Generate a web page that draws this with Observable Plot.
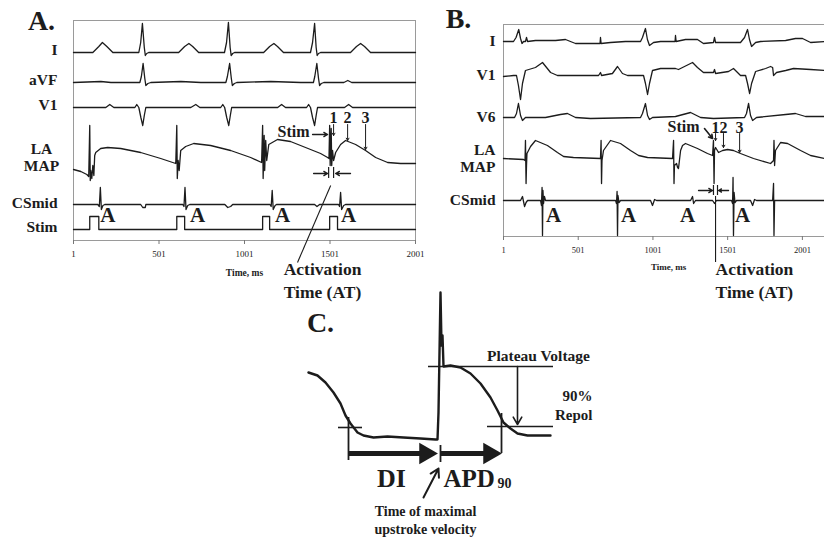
<!DOCTYPE html>
<html><head><meta charset="utf-8">
<script src="https://cdn.jsdelivr.net/npm/d3@7"></script>
<script src="https://cdn.jsdelivr.net/npm/@observablehq/plot@0.6"></script>
<style>
body{margin:0;background:#fff}
#fig{position:relative;width:824px;height:544px;overflow:hidden;background:#fff}
#fig>div{position:absolute}
#pa{left:0;top:0}#pb{left:440px;top:0}#pc{left:280px;top:290px}
</style></head><body><div id="fig"><div id="pa"></div><div id="pb"></div><div id="pc"></div></div>
<script>
// ---------------- Panel A data (time ms, signal units) ----------------
const A_ticks = [1, 501, 1001, 1501, 2001];
const A_leads = ["I", "aVF", "V1", "LA MAP", "CSmid", "Stim"];
const A_offsets = [188, 158, 133, 0, 36, 0];
const A_I = [[1,0],[114,0],[149,6],[170,10],[196,6],[231,0],[383,0],[394,10],[404,29],[415,5],[421,-3],[429,-1],[441,0],[616,0],[651,6],[676,9],[698,6],[733,0],[884,0],[896,10],[907,30],[917,5],[923,-3],[932,-1],[943,0],[1113,0],[1148,6],[1173,9],[1194,6],[1229,0],[1387,0],[1399,10],[1411,29],[1420,5],[1426,-3],[1434,-1],[1446,0],[1621,0],[1656,6],[1680,9],[1703,6],[1738,0],[2001,0]];
const A_aVF = [[1,0],[161,1],[220,0],[389,0],[398,6],[408,19],[418,4],[424,-3],[436,-1],[453,0],[629,1],[746,0],[892,0],[901,6],[914,19],[924,4],[930,-3],[942,-1],[956,0],[1155,1],[1330,0],[1404,0],[1412,6],[1424,19],[1434,4],[1440,-3],[1450,-1],[1465,0],[1582,0],[1605,2],[1628,0],[2001,0]];
const A_V1 = [[1,0],[190,0],[213,3],[237,0],[360,0],[371,3],[383,0],[395,-10],[406,-18],[415,-8],[424,0],[687,0],[716,3],[740,0],[862,0],[874,3],[885,0],[897,-10],[909,-18],[918,-8],[926,0],[1195,0],[1218,3],[1241,0],[1364,0],[1376,3],[1387,0],[1399,-10],[1411,-18],[1420,-8],[1428,0],[1586,0],[1610,3],[1633,0],[2001,0]];
const A_LA = [[1,71],[44,69],[79,66],[90,64],[96,115],[99,60],[102,70],[108,62],[114,75],[120,65],[125,85],[131,88],[160,92],[201,93],[277,92],[394,88],[511,82],[599,77],[605,115],[608,62],[613,80],[619,70],[628,90],[657,94],[704,97],[803,95],[920,90],[1037,83],[1101,78],[1107,115],[1110,62],[1116,105],[1119,70],[1125,100],[1131,80],[1143,96],[1194,101],[1270,99],[1358,93],[1446,87],[1487,83],[1495,82],[1499,115],[1502,75],[1508,112],[1511,75],[1516,90],[1522,80],[1534,88],[1563,96],[1592,100],[1651,96],[1709,90],[1768,83],[1838,78],[1914,77],[2001,77]];
const A_CS = [[1,0],[143,0],[152,-2],[158,17],[164,-5],[173,-1],[184,0],[394,0],[406,-3],[421,-3],[424,0],[640,0],[647,-2],[653,17],[659,-5],[669,-1],[681,0],[886,0],[903,-3],[920,-2],[932,0],[1150,0],[1157,-2],[1163,14],[1169,-5],[1180,-1],[1188,0],[1411,0],[1425,-2],[1440,0],[1551,0],[1557,-2],[1563,12],[1569,-5],[1581,-1],[1592,0],[2001,0]];
const A_Stim = [[1,11],[96,11],[96,24],[149,24],[149,11],[605,11],[605,24],[651,24],[651,11],[1107,11],[1107,24],[1148,24],[1148,11],[1499,11],[1499,24],[1545,24],[1545,11],[2001,11]];
const A_labels = ["I", "aVF", "V1", "CSmid", "Stim"];
const A_labelV = [190, 160, 135, 37, 13];
const A_atrialT = [202, 727, 1224, 1610];
const A_numLabels = ["1", "2", "3"];
const A_numT = [1522, 1604, 1709];
const A_numTipV = [105, 100, 91];
const A_atBarsT = [1493, 1522];

// ---------------- Panel B data ----------------
const B_ticks = [1, 501, 1001, 1501, 2001];
const B_leads = ["I", "V1", "V6", "LA MAP", "CSmid"];
const B_offsets = [195, 161, 119, 0, 36];
const B_I = [[1,0],[68,0],[85,4],[103,12],[115,3],[125,-2],[135,0],[148,0],[155,4],[162,0],[215,1],[282,1],[349,1],[416,2],[449,0],[483,-2],[637,-2],[647,-2],[650,4],[654,-2],[717,-1],[817,0],[918,0],[931,4],[951,13],[964,2],[978,-4],[1005,-1],[1052,0],[1149,0],[1152,6],[1156,0],[1219,2],[1299,2],[1339,-2],[1406,-1],[1413,4],[1420,-1],[1486,-1],[1587,-1],[1614,4],[1634,12],[1647,2],[1661,-5],[1688,-1],[1721,0],[1889,1],[1955,3],[2002,3],[2056,-1],[2149,0]];
const B_V1 = [[1,-1],[68,0],[88,0],[101,-10],[115,-24],[128,-8],[148,5],[215,8],[262,13],[289,8],[316,3],[362,0],[637,0],[650,3],[657,0],[730,2],[764,9],[797,2],[831,0],[938,0],[951,-8],[965,-19],[978,-8],[998,5],[1052,7],[1152,7],[1172,6],[1266,13],[1299,8],[1339,3],[1406,3],[1413,6],[1420,2],[1507,4],[1540,7],[1567,3],[1587,0],[1621,0],[1634,-8],[1648,-18],[1661,-8],[1688,4],[1755,7],[1788,9],[1802,8],[1808,0],[1828,3],[1889,5],[1942,7],[2056,6],[2149,5]];
const B_V6 = [[1,0],[75,0],[88,4],[101,14],[115,2],[128,-3],[148,0],[282,0],[382,3],[429,4],[483,0],[583,-1],[918,0],[931,4],[951,14],[965,2],[978,-2],[998,0],[1152,1],[1253,5],[1320,0],[1406,-1],[1614,0],[1627,4],[1641,14],[1654,2],[1668,-3],[1694,0],[1889,3],[1955,4],[2022,1],[2149,1]];
const B_LA = [[1,78],[135,77],[145,76],[148,96],[152,53],[155,71],[158,83],[182,90],[215,96],[295,91],[362,84],[403,80],[469,79],[650,78],[654,96],[657,53],[660,76],[670,86],[717,96],[784,93],[851,86],[905,81],[965,79],[1132,78],[1139,96],[1142,53],[1145,71],[1159,73],[1166,69],[1172,68],[1186,86],[1199,91],[1219,93],[1299,88],[1366,83],[1400,81],[1406,96],[1410,53],[1413,86],[1420,89],[1440,84],[1467,86],[1500,87],[1540,86],[1587,83],[1674,78],[1788,73],[1808,76],[1811,96],[1815,71],[1821,86],[1855,94],[1902,93],[1989,86],[2056,81],[2149,78]];
const B_CS = [[1,0],[115,0],[128,4],[142,-6],[152,-2],[162,0],[249,0],[255,-5],[259,13],[262,-35],[265,10],[269,-3],[275,4],[282,0],[751,0],[757,-3],[761,9],[764,-35],[767,5],[774,-2],[784,0],[985,0],[998,-5],[1012,1],[1025,0],[1253,0],[1266,4],[1273,-3],[1286,0],[1400,0],[1413,-3],[1426,0],[1527,0],[1534,-3],[1537,23],[1540,-35],[1544,8],[1550,-2],[1560,0],[1654,0],[1668,-5],[1681,1],[1694,0],[1802,0],[1808,17],[1811,-35],[1815,0],[2149,0]];
const B_labels = ["I", "V1", "V6", "CSmid"];
const B_labelV = [195, 161, 119, 36];
const B_atrialT = [336, 838, 1232, 1601];
const B_numLabels = ["1", "2", "3"];
const B_numT = [1420, 1473, 1581];
const B_numTipV = [96, 89, 84];
const B_atBarsT = [1406, 1433];

// ---------------- Panel C data (schematic MAP) ----------------
const C_trace = [[8,172],[17,169],[25,162],[33,152],[40,141],[45,129],[50,121],[57,112],[63,109],[73,107],[87,108],[103,107],[120,106],[135,105],[137,105],[138,132],[140,252],[141,199],[142,209],[143,178],[150,179],[160,177],[170,171],[180,161],[190,147],[197,134],[203,122],[210,116],[217,111],[227,109],[250,109]];
const C_plateauV = 178, C_repolV = 118;

// ---------------- helpers ----------------
const SERIF = "'Liberation Serif','DejaVu Serif','Times New Roman',serif";
const INK = "#1c1c1c";
const T = (o) => ({fontFamily: SERIF, fontWeight: "bold", fill: INK, ...o});
const build = (traces, names, offs) => traces.flatMap((tr, i) => tr.map(([t, v]) => ({lead: names[i], t, v: v + offs[i]})));
const STYLE = {background: "transparent", overflow: "visible", fontFamily: SERIF};

// ---------------- Panel A ----------------
const dataA = build([A_I, A_aVF, A_V1, A_LA, A_CS, A_Stim], A_leads, A_offsets);
const plotA = Plot.plot({
  width: 430, height: 300, marginLeft: 73, marginRight: 15, marginTop: 20, marginBottom: 60,
  x: {domain: [1, 2001]}, y: {domain: [0, 220], axis: null}, style: STYLE,
  marks: [
    Plot.frame({stroke: "#9a9a9a"}),
    Plot.axisX({ticks: A_ticks, tickFormat: d => String(d), tickSize: 4, tickPadding: 6, stroke: "#777", fill: INK, fontSize: 9, fontFamily: SERIF, label: null}),
    Plot.text(["Time, ms"], {x: 1001, y: -32, text: d => d, ...T({fontSize: 9.5})}),
    Plot.line(dataA, {x: "t", y: "v", z: "lead", stroke: INK, strokeWidth: 1.3}),
    Plot.text(A_labels, {x: 1, y: (d, i) => A_labelV[i], text: d => d, dx: -16, textAnchor: "end", ...T({fontSize: 15.5})}),
    Plot.text(["LA\nMAP"], {x: 1, y: 83.5, text: d => d, dx: -32, lineHeight: 1.1, ...T({fontSize: 15.5})}),
    Plot.text(["A."], {frameAnchor: "top-left", text: d => d, dx: -32, dy: 1, textAnchor: "middle", lineAnchor: "middle", ...T({fontSize: 28})}),
    Plot.text(A_atrialT, {x: d => d, y: 25, text: () => "A", ...T({fontSize: 21})}),
    Plot.text(["Stim"], {x: 1288, y: 109, text: d => d, ...T({fontSize: 16})}),
    Plot.arrow([0], {x1: 1399, x2: 1487, y1: 106, y2: 106, stroke: INK, strokeWidth: 1.3, headLength: 5}),
    Plot.text(A_numLabels, {x: (d, i) => A_numT[i], y: 123, text: d => d, ...T({fontSize: 16})}),
    Plot.arrow(A_numT, {x1: d => d, x2: d => d, y1: 116, y2: (d, i) => A_numTipV[i], stroke: INK, strokeWidth: 1, headLength: 4}),
    Plot.ruleX(A_atBarsT, {x: d => d, y1: 62, y2: 73, stroke: INK, strokeWidth: 1.2}),
    Plot.arrow([[1405, 1487], [1621, 1534]], {x1: d => d[0], x2: d => d[1], y1: 67, y2: 67, stroke: INK, strokeWidth: 1.3, headLength: 5}),
    Plot.link([0], {x1: 1505, y1: 55, x2: 1311, y2: -22, stroke: INK, strokeWidth: 1.1}),
    Plot.text(["Activation\nTime (AT)"], {x: 1230, y: -39, text: d => d, textAnchor: "start", lineHeight: 1.3, ...T({fontSize: 17.5})})
  ]
});
document.getElementById("pa").append(plotA);

// ---------------- Panel B ----------------
const dataB = build([B_I, B_V1, B_V6, B_LA, B_CS], B_leads, B_offsets);
const plotB = Plot.plot({
  width: 384, height: 300, marginLeft: 63, marginRight: 0, marginTop: 24, marginBottom: 64,
  x: {domain: [1, 2149]}, y: {domain: [0, 212], axis: null}, style: STYLE,
  marks: [
    Plot.frame({anchor: "top", stroke: "#9a9a9a"}),
    Plot.frame({anchor: "left", stroke: "#9a9a9a"}),
    Plot.frame({anchor: "bottom", stroke: "#9a9a9a"}),
    Plot.axisX({ticks: B_ticks, tickFormat: d => String(d), tickSize: 4, tickPadding: 6, stroke: "#777", fill: INK, fontSize: 8.5, fontFamily: SERIF, label: null}),
    Plot.text(["Time, ms"], {x: 1106, y: -31, text: d => d, ...T({fontSize: 9})}),
    Plot.line(dataB, {x: "t", y: "v", z: "lead", stroke: INK, strokeWidth: 1.3}),
    Plot.text(B_labels, {x: 1, y: (d, i) => B_labelV[i], text: d => d, dx: -8, textAnchor: "end", ...T({fontSize: 15.5})}),
    Plot.text(["LA\nMAP"], {x: 1, y: 78.5, text: d => d, dx: -8, textAnchor: "end", lineHeight: 1.1, ...T({fontSize: 15.5})}),
    Plot.text(["B."], {frameAnchor: "top-left", text: d => d, dx: -45, dy: -5, textAnchor: "middle", lineAnchor: "middle", ...T({fontSize: 28})}),
    Plot.text(B_atrialT, {x: d => d, y: 21, text: () => "A", ...T({fontSize: 21})}),
    Plot.text(["Stim"], {x: 1206, y: 110, text: d => d, ...T({fontSize: 16})}),
    Plot.arrow([0], {x1: 1346, x2: 1400, y1: 108, y2: 98, stroke: INK, strokeWidth: 1.6, headLength: 5}),
    Plot.text(B_numLabels, {x: (d, i) => B_numT[i], y: 109, text: d => d, ...T({fontSize: 16})}),
    Plot.arrow(B_numT, {x1: d => d, x2: d => d, y1: 103, y2: (d, i) => B_numTipV[i], stroke: INK, strokeWidth: 1, headLength: 4}),
    Plot.ruleX(B_atBarsT, {x: d => d, y1: 41, y2: 51, stroke: INK, strokeWidth: 1.2}),
    Plot.arrow([[1306, 1400], [1507, 1440]], {x1: d => d[0], x2: d => d[1], y1: 46, y2: 46, stroke: INK, strokeWidth: 1.3, headLength: 5}),
    Plot.ruleX([1420], {x: d => d, y1: 40, y2: -26, stroke: INK, strokeWidth: 1.1}),
    Plot.text(["Activation\nTime (AT)"], {x: 1420, y: -43, text: d => d, textAnchor: "start", lineHeight: 1.3, ...T({fontSize: 17.5})})
  ]
});
document.getElementById("pb").append(plotB);

// ---------------- Panel C ----------------
const plotC = Plot.plot({
  width: 330, height: 254, margin: 0,
  x: {domain: [-20, 310], axis: null}, y: {domain: [0, 254], axis: null}, style: STYLE,
  marks: [
    Plot.line(C_trace, {x: d => d[0], y: d => d[1], stroke: INK, strokeWidth: 2.4}),
    Plot.ruleY([C_plateauV], {x1: 128, x2: 253, stroke: INK, strokeWidth: 1.6}),
    Plot.ruleY([C_repolV], {x1: 187, x2: 253, stroke: INK, strokeWidth: 1.6}),
    Plot.ruleY([117], {x1: 38, x2: 62, stroke: INK, strokeWidth: 1.6}),
    Plot.ruleX([48], {y1: 84, y2: 127, stroke: INK, strokeWidth: 1.8}),
    Plot.ruleX([140], {y1: 82, y2: 99, stroke: INK, strokeWidth: 1.8}),
    Plot.ruleX([201], {y1: 91, y2: 131, stroke: INK, strokeWidth: 1.8}),
    Plot.ruleY([91], {x1: 48, x2: 126, stroke: INK, strokeWidth: 5}),
    Plot.ruleY([91], {x1: 141, x2: 189, stroke: INK, strokeWidth: 5}),
    Plot.dot([125, 189], {x: d => d, y: 91, symbol: "triangle", rotate: 90, r: 8, fill: INK, stroke: "none"}),
    Plot.arrow([0], {x1: 217, x2: 217, y1: C_plateauV, y2: C_repolV + 2, stroke: INK, strokeWidth: 1.6, headLength: 8}),
    Plot.arrow([0], {x1: 123, y1: 47, x2: 138, y2: 76, stroke: INK, strokeWidth: 2, headLength: 7}),
    Plot.text(["C."], {x: 20, y: 221, text: d => d, ...T({fontSize: 28})}),
    Plot.text(["Plateau Voltage"], {x: 238, y: 188, text: d => d, ...T({fontSize: 15.5})}),
    Plot.text(["90%\nRepol"], {x: 292, y: 140, text: d => d, textAnchor: "end", lineHeight: 1.25, ...T({fontSize: 15})}),
    Plot.text(["DI"], {x: 91, y: 66, text: d => d, ...T({fontSize: 26})}),
    Plot.text(["APD"], {x: 143, y: 66, text: d => d, textAnchor: "start", ...T({fontSize: 25})}),
    Plot.text(["90"], {x: 197, y: 61, text: d => d, textAnchor: "start", ...T({fontSize: 14})}),
    Plot.text(["Time of maximal\nupstroke velocity"], {x: 125, y: 25, text: d => d, lineHeight: 1.3, ...T({fontSize: 14})})
  ]
});
document.getElementById("pc").append(plotC);
</script></body></html>
